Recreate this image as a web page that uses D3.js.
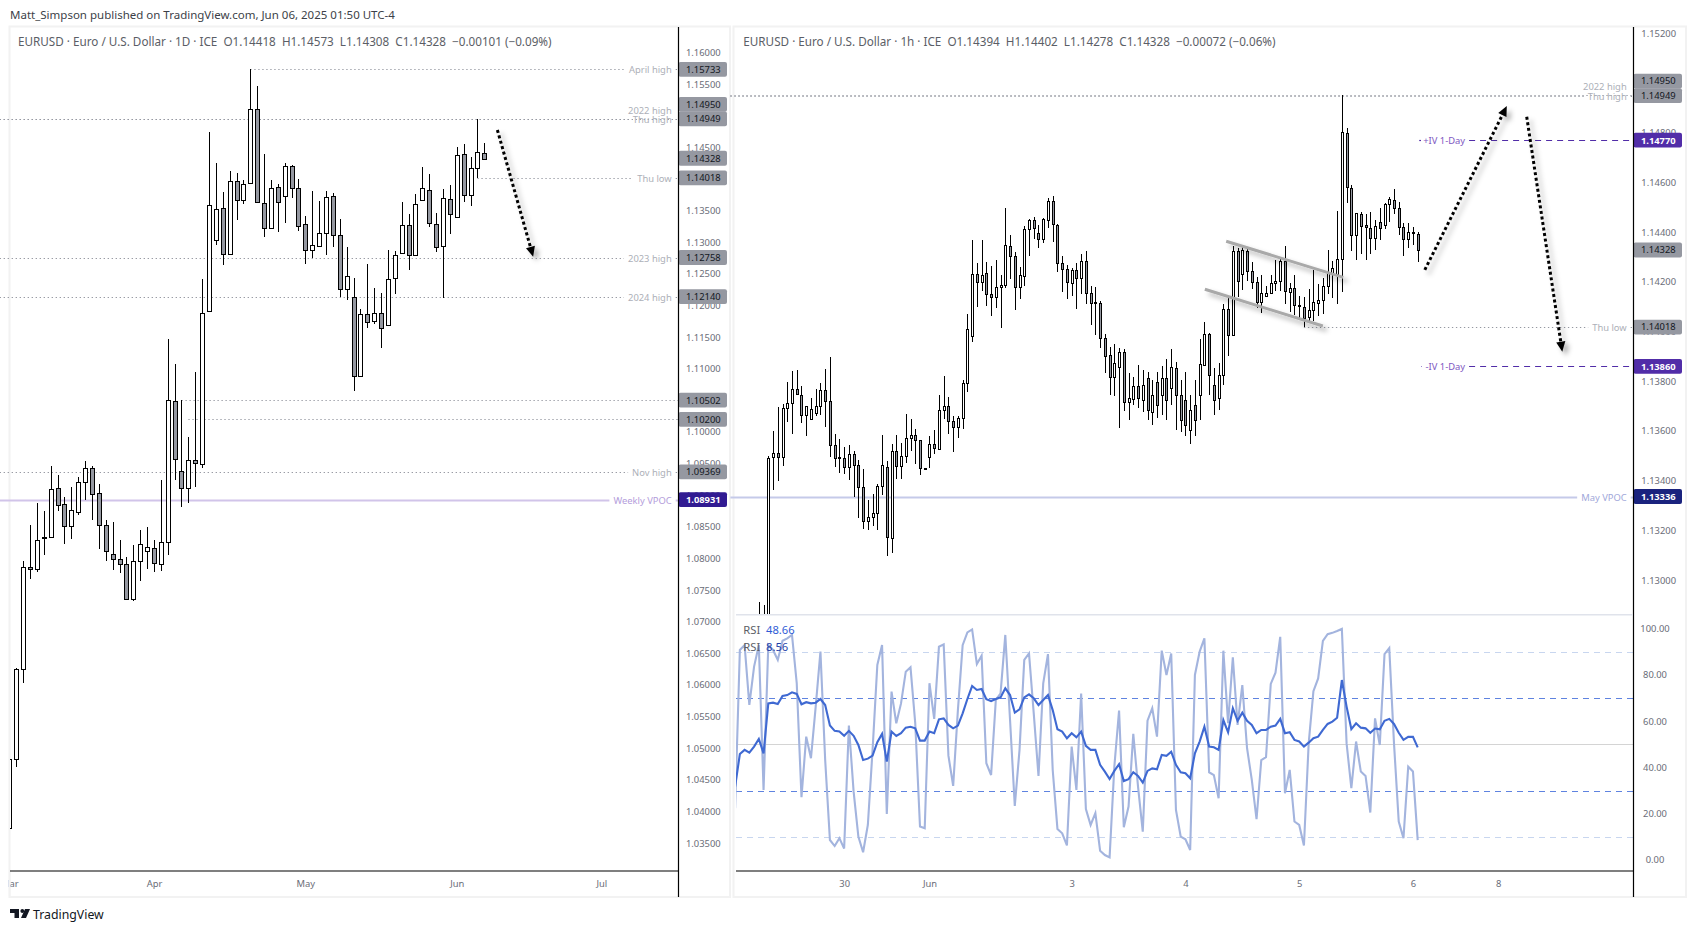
<!DOCTYPE html>
<html>
<head>
<meta charset="utf-8">
<title>EURUSD</title>
<script src="https://cdn.jsdelivr.net/npm/d3@7"></script>
<style>
    html, body { margin: 0; padding: 0; background: #fff; overflow: hidden; }
    text { font-family: "Noto Sans", sans-serif; }
</style>
</head>
<body>
<div id="my_dataviz"></div>
<script>
// daily candles, first one is cut by the left edge of the pane
const dOpen = [1.03737,1.04817,1.06246,1.07859,1.07828,1.08330,1.08334,1.09108,1.08855,1.08508,
    1.08729,1.09203,1.09425,1.09029,1.08523,1.08065,1.07986,1.07907,1.07347,1.07954,
    1.08112,1.08160,1.07907,1.08255,1.10484,1.09377,1.09108,1.09551,1.09488,1.11907,
    1.13030,1.13536,1.12809,1.13963,1.13663,1.13931,1.15102,1.13615,1.13220,1.13868,
    1.13726,1.14200,1.13852,1.13283,1.12872,1.12935,1.13141,1.13726,1.13109,1.12255,
    1.12129,1.10880,1.11860,1.11749,1.11876,1.11686,1.12429,1.12825,1.13267,1.12793,
    1.13663,1.13821,1.13283,1.12935,1.13678,1.13394,1.14390,1.13742,1.14169,1.14418];
const dHigh = [1.05034,1.06262,1.07954,1.08528,1.08876,1.08750,1.09461,1.09319,1.08971,1.09129,
    1.09287,1.09540,1.09461,1.09177,1.08607,1.08576,1.08291,1.08022,1.08212,1.08449,
    1.08497,1.08291,1.09240,1.11469,1.11074,1.10505,1.09920,1.10948,1.12418,1.14743,
    1.14252,1.13794,1.14126,1.14094,1.13984,1.15733,1.15470,1.14395,1.13984,1.13920,
    1.14252,1.14221,1.13999,1.13414,1.13810,1.13652,1.13810,1.13778,1.13367,1.12924,
    1.12434,1.11944,1.12655,1.12276,1.12197,1.12877,1.12861,1.13636,1.13446,1.13762,
    1.14189,1.14079,1.13462,1.13841,1.13905,1.14505,1.14553,1.14347,1.14949,1.14573];
const dLow = [1.03737,1.04706,1.06025,1.07670,1.07790,1.08054,1.08334,1.08754,1.08228,1.08312,
    1.08686,1.08923,1.08607,1.08154,1.07959,1.07817,1.07764,1.07342,1.07331,1.07647,
    1.07832,1.07785,1.07801,1.08054,1.09240,1.08813,1.08876,1.09129,1.09430,1.11896,
    1.12956,1.12640,1.12809,1.13351,1.13604,1.13931,1.13631,1.13082,1.13220,1.13161,
    1.13304,1.13699,1.13177,1.12655,1.12750,1.12935,1.12798,1.12924,1.12134,1.12086,
    1.10652,1.10880,1.11643,1.11707,1.11327,1.11686,1.12181,1.12825,1.12560,1.12793,
    1.13652,1.13240,1.12845,1.12118,1.13130,1.13394,1.13636,1.13573,1.14018,1.14308];
const dClose = [1.04823,1.06246,1.07859,1.07828,1.08286,1.08334,1.09093,1.08840,1.08508,1.08761,
    1.09203,1.09425,1.09014,1.08523,1.08112,1.07986,1.07907,1.07347,1.07954,1.08223,
    1.08176,1.07923,1.08255,1.10500,1.09567,1.09108,1.09551,1.09504,1.11876,1.13584,
    1.13520,1.12809,1.13963,1.13663,1.13916,1.15102,1.13631,1.13220,1.13852,1.13631,
    1.14200,1.13852,1.13252,1.12872,1.12951,1.13141,1.13710,1.13109,1.12255,1.12461,
    1.10880,1.11860,1.11733,1.11876,1.11639,1.12413,1.12793,1.13267,1.12793,1.13599,
    1.13852,1.13299,1.12919,1.13694,1.13441,1.14374,1.13742,1.14169,1.14422,1.14328];

// hourly candles
const hOpen = [1.12718,1.12698,1.12819,1.13494,1.13510,1.13494,1.13691,1.13711,1.13767,1.13743,
    1.13663,1.13647,1.13671,1.13699,1.13763,1.13719,1.13542,1.13495,1.13490,1.13454,
    1.13506,1.13462,1.13373,1.13236,1.13252,1.13268,1.13377,1.13454,1.13168,1.13518,
    1.13456,1.13498,1.13570,1.13582,1.13562,1.13450,1.13494,1.13546,1.13526,1.13683,
    1.13699,1.13639,1.13615,1.13651,1.13792,1.13981,1.14230,1.14198,1.14234,1.14150,
    1.14138,1.14178,1.14186,1.14343,1.14303,1.14178,1.14222,1.14411,1.14448,1.14395,
    1.14371,1.14448,1.14524,1.14427,1.14274,1.14250,1.14194,1.14246,1.14214,1.14283,
    1.14154,1.14118,1.14114,1.13973,1.13904,1.13816,1.13856,1.13916,1.13715,1.13727,
    1.13780,1.13724,1.13813,1.13676,1.13797,1.13745,1.13813,1.13773,1.13853,1.13745,
    1.13724,1.13604,1.13704,1.13745,1.13864,1.13989,1.13785,1.13732,1.13825,1.14089,
    1.13985,1.14323,1.14230,1.14323,1.14242,1.14198,1.14118,1.14142,1.14154,1.14194,
    1.14202,1.14283,1.14158,1.14174,1.14106,1.14097,1.14057,1.14085,1.14114,1.14126,
    1.14182,1.14234,1.14230,1.14291,1.14798,1.14576,1.14387,1.14472,1.14428,1.14415,
    1.14375,1.14439,1.14427,1.14512,1.14528,1.14496,1.14419,1.14371,1.14399,1.14394];
const hHigh = [1.12912,1.12899,1.13498,1.13600,1.13696,1.13708,1.13797,1.13841,1.13845,1.13781,
    1.13699,1.13732,1.13769,1.13793,1.13849,1.13897,1.13588,1.13567,1.13535,1.13543,
    1.13519,1.13483,1.13447,1.13322,1.13346,1.13386,1.13584,1.13479,1.13547,1.13584,
    1.13551,1.13668,1.13648,1.13608,1.13562,1.13452,1.13580,1.13604,1.13745,1.13821,
    1.13736,1.13660,1.13660,1.13805,1.14070,1.14368,1.14276,1.14368,1.14280,1.14264,
    1.14288,1.14227,1.14497,1.14388,1.14320,1.14260,1.14425,1.14453,1.14461,1.14429,
    1.14457,1.14537,1.14545,1.14433,1.14304,1.14268,1.14256,1.14276,1.14312,1.14324,
    1.14183,1.14179,1.14123,1.13990,1.13938,1.13950,1.13934,1.13930,1.13833,1.13817,
    1.13865,1.13845,1.13837,1.13805,1.13837,1.13861,1.13889,1.13930,1.13877,1.13805,
    1.13837,1.13745,1.13805,1.13970,1.14038,1.13994,1.13853,1.13873,1.14111,1.14135,
    1.14344,1.14336,1.14344,1.14336,1.14280,1.14219,1.14227,1.14183,1.14227,1.14288,
    1.14292,1.14344,1.14195,1.14227,1.14143,1.14139,1.14171,1.14248,1.14191,1.14215,
    1.14328,1.14284,1.14485,1.14950,1.14819,1.14590,1.14476,1.14481,1.14473,1.14481,
    1.14449,1.14497,1.14517,1.14541,1.14573,1.14521,1.14437,1.14437,1.14420,1.14402];
const hLow = [1.12678,1.12658,1.12800,1.13362,1.13398,1.13459,1.13636,1.13588,1.13745,1.13632,
    1.13580,1.13647,1.13660,1.13664,1.13616,1.13495,1.13455,1.13431,1.13427,1.13402,
    1.13334,1.13250,1.13205,1.13201,1.13217,1.13201,1.13342,1.13097,1.13109,1.13406,
    1.13406,1.13471,1.13519,1.13467,1.13423,1.13448,1.13451,1.13507,1.13526,1.13648,
    1.13588,1.13515,1.13571,1.13608,1.13757,1.13958,1.14099,1.14163,1.14103,1.14062,
    1.14095,1.14014,1.14175,1.14211,1.14087,1.14131,1.14183,1.14304,1.14372,1.14336,
    1.14356,1.14417,1.14360,1.14239,1.14159,1.14131,1.14143,1.14091,1.14151,1.14111,
    1.14026,1.13986,1.13934,1.13833,1.13745,1.13740,1.13612,1.13680,1.13644,1.13704,
    1.13692,1.13676,1.13644,1.13624,1.13652,1.13664,1.13644,1.13704,1.13604,1.13596,
    1.13580,1.13547,1.13580,1.13644,1.13864,1.13745,1.13664,1.13684,1.13785,1.13901,
    1.13985,1.14139,1.14167,1.14203,1.14171,1.14095,1.14074,1.14139,1.14154,1.14163,
    1.14163,1.14111,1.14079,1.14066,1.14054,1.14018,1.14034,1.14042,1.14062,1.14070,
    1.14151,1.14135,1.14111,1.14159,1.14517,1.14324,1.14288,1.14312,1.14288,1.14312,
    1.14328,1.14368,1.14413,1.14441,1.14473,1.14388,1.14304,1.14336,1.14348,1.14278];
const hClose = [1.12819,1.12799,1.13490,1.13510,1.13494,1.13691,1.13711,1.13767,1.13747,1.13663,
    1.13699,1.13687,1.13699,1.13763,1.13719,1.13542,1.13490,1.13494,1.13454,1.13506,
    1.13462,1.13373,1.13236,1.13252,1.13268,1.13377,1.13462,1.13172,1.13518,1.13456,
    1.13498,1.13570,1.13582,1.13562,1.13450,1.13451,1.13546,1.13530,1.13683,1.13699,
    1.13639,1.13615,1.13651,1.13792,1.14009,1.14230,1.14198,1.14226,1.14150,1.14138,
    1.14178,1.14186,1.14347,1.14303,1.14178,1.14226,1.14411,1.14448,1.14415,1.14371,
    1.14452,1.14524,1.14431,1.14274,1.14250,1.14198,1.14246,1.14214,1.14283,1.14154,
    1.14114,1.14118,1.13973,1.13900,1.13816,1.13872,1.13916,1.13715,1.13731,1.13780,
    1.13732,1.13785,1.13684,1.13745,1.13704,1.13813,1.13724,1.13857,1.13745,1.13644,
    1.13624,1.13684,1.13644,1.13869,1.13989,1.13825,1.13724,1.13825,1.14089,1.13985,
    1.14323,1.14202,1.14327,1.14242,1.14198,1.14118,1.14154,1.14154,1.14194,1.14202,
    1.14283,1.14162,1.14174,1.14105,1.14105,1.14053,1.14085,1.14118,1.14126,1.14182,
    1.14238,1.14254,1.14291,1.14802,1.14580,1.14387,1.14476,1.14423,1.14420,1.14375,
    1.14423,1.14415,1.14512,1.14532,1.14496,1.14419,1.14371,1.14399,1.14396,1.14328];

// RSI 14 and RSI 2, they start 5 bars before the first hourly candle
const rsiSlow = [31.7,45.8,47.6,46.4,49.0,52.3,46.1,67.7,68.0,67.4,70.9,71.3,72.5,71.8,67.3,68.2,67.7,68.0,69.6,67.0,
    58.1,55.8,55.5,53.7,55.8,53.7,49.7,43.2,43.8,45.1,50.9,54.5,42.5,55.5,53.6,54.8,57.2,57.6,56.9,51.6,
    51.6,55.5,54.8,60.8,61.2,58.4,56.9,58.1,63.4,69.6,75.2,73.5,73.9,69.5,68.7,69.6,70.3,74.2,71.3,63.7,
    65.1,70.3,71.6,69.9,67.0,69.2,71.3,64.8,56.5,55.5,52.6,54.8,53.0,55.5,49.3,47.6,47.6,41.1,38.2,35.0,
    38.5,41.4,34.1,34.9,37.9,36.3,33.4,38.5,39.6,39.2,45.4,45.0,46.8,41.1,37.9,37.5,35.3,46.1,51.2,57.6,
    49.0,48.7,47.6,60.5,55.2,65.6,60.2,63.7,60.2,58.4,54.8,56.2,56.2,57.6,58.1,61.0,54.8,55.2,51.9,51.2,
    49.0,50.7,52.6,53.3,56.2,58.8,59.8,61.5,77.8,66.3,56.6,59.1,57.2,56.9,55.0,56.8,56.5,60.2,61.0,58.8,
    55.0,51.9,53.2,53.2,48.66];
const rsiFast = [22.3,90.8,92.9,67.0,83.6,92.9,30.3,92.9,90.8,86.5,94.8,95.8,97.3,76.4,27.1,53.3,44.0,66.3,90.1,43.2,
    8.6,6.0,9.4,4.9,58.1,29.5,10.1,3.3,15.1,47.6,84.3,92.9,19.9,72.8,59.1,67.7,81.4,83.3,59.1,14.4,
    13.7,76.4,61.0,92.2,93.2,45.1,32.0,64.8,92.9,98.4,99.7,84.7,88.3,41.8,36.7,69.2,72.0,97.3,60.5,23.3,
    47.6,86.5,89.3,63.4,36.3,76.4,89.0,38.9,13.4,11.5,6.3,49.0,30.3,72.0,22.0,15.1,20.2,4.0,2.1,1.1,
    40.3,64.6,14.1,23.1,54.5,31.7,12.2,60.2,65.6,53.3,90.5,80.0,89.3,21.6,10.1,8.9,4.3,80.0,90.1,95.8,
    37.9,36.7,26.7,90.5,59.1,87.6,58.4,75.6,48.3,34.6,17.6,43.2,44.4,76.1,81.0,96.5,28.8,38.9,16.6,15.1,
    6.2,50.4,73.0,78.5,94.7,97.6,98.2,99.0,99.9,50.4,31.0,51.2,38.2,36.3,20.5,61.2,49.7,89.0,91.6,50.4,
    16.6,9.4,40.3,38.2,8.56];

// axis ticks
const dailyTicks = d3.range(1.035, 1.1601, 0.005);
const hourlyTicks = d3.range(1.13, 1.1521, 0.002);
const rsiTicks = [0, 20, 40, 60, 80, 100];
const dailyDateBars = [0, 21, 43, 65, 86];
const dailyDateNames = ["Mar", "Apr", "May", "Jun", "Jul"];
const hourlyDateBars = [18, 36, 66, 90, 114, 138, 156];
const hourlyDateNames = ["30", "Jun", "3", "4", "5", "6", "8"];

// horizontal levels of the daily pane
const dLevelNames = ["April high", "2022 high", "Thu high", "Thu low", "2023 high", "2024 high", "", "", "Nov high", "Weekly VPOC", ""];
const dLevelPrices = [1.15733, 1.1495, 1.14949, 1.14018, 1.12758, 1.1214, 1.10502, 1.102, 1.09369, 1.08931, 1.14328];
const dLevelStarts = [35, -2, -2, 68, -2, -2, 25, 26, -2, -2, null];
const dLevelKinds = ["dot", "above", "dot", "dot", "dot", "dot", "dot", "dot", "dot", "vpocW", "last"];

// horizontal levels of the hourly pane
const hLevelNames = ["2022 high", "Thu high", "+IV 1-Day", "Thu low", "-IV 1-Day", "May VPOC", ""];
const hLevelPrices = [1.1495, 1.14949, 1.1477, 1.14018, 1.1386, 1.13336, 1.14328];
const hLevelStarts = [-6, -6, 139.7, 115, 139.7, -6, null];
const hLevelKinds = ["above", "dot", "iv", "dot", "iv", "vpocM", "last"];

// hand drawn lines, [bar, price, bar, price]
const dArrows = [[69.9 + 1, 1.14774, 75.1 + 1, 1.12771]];
const hArrows = [[140.5, 1.14248, 157.8, 1.14907], [162, 1.14864, 169.5, 1.13919]];
const hChannel = [[98.6, 1.14363, 123.3, 1.14218], [94.1, 1.1417, 119, 1.14022]];

const width = 1695;
const height = 932;
const fontSmall = 9.4;
const fontHeader = 11.7;
const tagGrey = "#9598a1";

const svg = d3.select("#my_dataviz").append("svg")
    .attr("width", width).attr("height", height).style("display", "block");

const defs = svg.append("defs");
defs.append("clipPath").attr("id", "clipDaily").append("rect")
    .attr("x", 10).attr("y", 27).attr("width", 668).attr("height", 844);
defs.append("clipPath").attr("id", "clipHourly").append("rect")
    .attr("x", 736).attr("y", 27).attr("width", 897).attr("height", 587);
defs.append("clipPath").attr("id", "clipRsi").append("rect")
    .attr("x", 736).attr("y", 615).attr("width", 897).attr("height", 256);
const shadow = defs.append("filter").attr("id", "shadow")
    .attr("x", "-30%").attr("y", "-30%").attr("width", "170%").attr("height", "170%");
shadow.append("feDropShadow").attr("dx", 4).attr("dy", 4).attr("stdDeviation", 2.4)
    .attr("flood-color", "#000").attr("flood-opacity", 0.32);

// scales
const dailyX = d3.scaleLinear().domain([0, 69]).range([9.42, 484.3]);
const dailyY = d3.scaleLinear().domain([1.16, 1.035]).range([52.5, 843]);
const hourX = d3.scaleLinear().domain([0, 139]).range([758.82, 1417.7]);
const hourY = d3.scaleLinear().domain([1.152, 1.13]).range([33.3, 580]);
const rsiY = d3.scaleLinear().domain([0, 100]).range([859.9, 628.7]);

// cadres des deux panneaux
[[9.5, 720.5], [733.5, 952.5]].forEach(function (p) {
    svg.append("rect").attr("x", p[0]).attr("y", 26.5).attr("width", p[1]).attr("height", 870.5)
        .attr("fill", "#fff").attr("stroke", "#f2f2f2").attr("stroke-width", 2);
});

// titres
svg.append("text").attr("x", 10).attr("y", 19).attr("font-size", 11.5).attr("fill", "#3c3f48")
    .text("Matt_Simpson published on TradingView.com, Jun 06, 2025 01:50 UTC-4");
svg.append("text").attr("x", 18).attr("y", 45.5).attr("font-size", fontHeader).attr("fill", "#5b5e66")
    .attr("xml:space", "preserve")
    .text("EURUSD · Euro / U.S. Dollar · 1D · ICE  O1.14418  H1.14573  L1.14308  C1.14328  −0.00101 (−0.09%)");
svg.append("text").attr("x", 743.3).attr("y", 45.5).attr("font-size", fontHeader).attr("fill", "#5b5e66")
    .attr("xml:space", "preserve")
    .text("EURUSD · Euro / U.S. Dollar · 1h · ICE  O1.14394  H1.14402  L1.14278  C1.14328  −0.00072 (−0.06%)");

// axe de prix, format à 5 décimales
function priceAxis(scale, ticks, xPos, center) {
    const g = svg.append("g").attr("transform", "translate(" + xPos + ",0)")
        .call(d3.axisRight(scale).tickValues(ticks).tickSize(0).tickFormat(d3.format(".5f")));
    g.select(".domain").remove();
    g.selectAll("text").attr("x", center).attr("text-anchor", "middle")
        .attr("font-size", fontSmall).attr("font-family", null).attr("fill", "#6a6d78");
}
priceAxis(dailyY, dailyTicks, 678, 25.3);
priceAxis(hourY, hourlyTicks, 1633, 25.7);

const rsiAxis = svg.append("g").attr("transform", "translate(1633,0)")
    .call(d3.axisRight(rsiY).tickValues(rsiTicks).tickSize(0).tickFormat(d3.format(".2f")));
rsiAxis.select(".domain").remove();
rsiAxis.selectAll("text").attr("x", 22).attr("text-anchor", "middle")
    .attr("font-size", fontSmall).attr("font-family", null).attr("fill", "#6a6d78");

// axe du temps
function timeAxis(scale, bars, names) {
    const g = svg.append("g").attr("transform", "translate(0,871)")
        .call(d3.axisBottom(scale).tickValues(bars).tickSize(0)
            .tickFormat(function (d, i) { return names[i]; }));
    g.select(".domain").remove();
    g.selectAll("text").attr("y", 9).attr("font-size", fontSmall)
        .attr("font-family", null).attr("fill", "#6a6d78");
    return g;
}
timeAxis(dailyX, dailyDateBars, dailyDateNames);
timeAxis(hourX, hourlyDateBars, hourlyDateNames);

// cache le début du "Mar" qui déborde du panneau
svg.append("rect").attr("x", 0).attr("y", 872).attr("width", 8.5).attr("height", 24).attr("fill", "#fff");
svg.append("rect").attr("x", 8.5).attr("y", 872).attr("width", 2).attr("height", 24).attr("fill", "#f2f2f2");

// niveaux horizontaux
const levelStyle = {
    dot: { stroke: tagGrey, dash: "1.3 2.7", width: 1, text: "#adb0b8", tag: tagGrey, tagText: "#131722" },
    above: { stroke: tagGrey, dash: "1.3 2.7", width: 1, text: "#adb0b8", tag: tagGrey, tagText: "#131722" },
    last: { tag: tagGrey, tagText: "#131722" },
    iv: { stroke: "#512da8", dash: "6 5", width: 1.2, text: "#7e57c2", tag: "#512da8", tagText: "#fff" },
    vpocW: { stroke: "#d1c4e9", dash: null, width: 2, text: "#b39ddb", tag: "#311b92", tagText: "#fff" },
    vpocM: { stroke: "#c5cae9", dash: null, width: 2, text: "#9fa8da", tag: "#1a237e", tagText: "#fff" }
};

function drawLevels(names, prices, starts, kinds, xScale, yScale, axisX, labelEnd, ivEnd) {
    const g = svg.append("g");
    const textG = svg.append("g");
    names.forEach(function (name, i) {
        const st = levelStyle[kinds[i]];
        if (kinds[i] === "last") return;
        const y = Math.round(yScale(prices[i])) + 0.5;
        const x0 = xScale(starts[i]);
        const segment = function (a, b) {
            g.append("line").attr("x1", a).attr("x2", b).attr("y1", y).attr("y2", y)
                .attr("stroke", st.stroke).attr("stroke-width", st.width)
                .attr("stroke-dasharray", st.dash);
        };
        if (!name) {
            segment(x0, axisX);
            return;
        }
        const end = kinds[i] === "iv" ? ivEnd : labelEnd;
        const label = textG.append("text").attr("x", end).attr("font-size", fontSmall)
            .attr("text-anchor", "end").attr("fill", st.text).text(name);
        label.attr("y", (kinds[i] === "above" ? y - 9 : y) + 3.3);
        const w = label.node().getComputedTextLength();
        if (kinds[i] === "above") {
            segment(x0, axisX);
        } else {
            segment(x0, end - w - 4);
            segment(end + 4, axisX);
        }
    });
}

// étiquettes de prix sur l'axe, poussées vers le haut si elles se touchent
function drawTags(prices, kinds, yScale, axisX) {
    const tags = prices.map(function (p, i) { return { p: p, st: levelStyle[kinds[i]] }; })
        .sort(function (a, b) { return d3.ascending(a.p, b.p); });
    let prev = null;
    tags.forEach(function (t) {
        let y = yScale(t.p);
        if (prev !== null && prev - y < 14.6) y = prev - 14.6;
        prev = y;
        svg.append("rect").attr("x", axisX + 0.5).attr("y", y - 7.4).attr("width", 48.5).attr("height", 14.8)
            .attr("rx", 2).attr("fill", t.st.tag);
        svg.append("text").attr("x", axisX + 25.3).attr("y", y + 3.4).attr("text-anchor", "middle")
            .attr("font-size", fontSmall).attr("fill", t.st.tagText)
            .attr("font-weight", t.st.tagText === "#fff" ? "bold" : null)
            .text(d3.format(".5f")(t.p));
    });
}

drawLevels(dLevelNames, dLevelPrices, dLevelStarts, dLevelKinds, dailyX, dailyY, 678, 671.7, 0);
drawLevels(hLevelNames, hLevelPrices, hLevelStarts, hLevelKinds, hourX, hourY, 1633, 1626.7, hourX(149));
drawTags(dLevelPrices, dLevelKinds, dailyY, 678);
drawTags(hLevelPrices, hLevelKinds, hourY, 1633);

// bougies
function drawCandles(open, high, low, close, xScale, yScale, clip, bodyW) {
    const bars = d3.range(open.length);
    const g = svg.append("g").attr("clip-path", "url(#" + clip + ")")
        .attr("shape-rendering", "crispEdges");
    g.selectAll(".wick").data(bars).join("line").attr("class", "wick")
        .attr("x1", function (d) { return Math.round(xScale(d)) + 0.5; })
        .attr("x2", function (d) { return Math.round(xScale(d)) + 0.5; })
        .attr("y1", function (d) { return yScale(high[d]); })
        .attr("y2", function (d) { return yScale(low[d]); })
        .attr("stroke", "#000");
    g.selectAll(".body").data(bars).join("rect").attr("class", "body")
        .attr("x", function (d) { return Math.round(xScale(d)) + 0.5 - bodyW / 2; })
        .attr("width", bodyW)
        .attr("y", function (d) { return Math.round(yScale(Math.max(open[d], close[d]))) + 0.5; })
        .attr("height", function (d) {
            return Math.max(1, Math.round(Math.abs(yScale(open[d]) - yScale(close[d]))));
        })
        .attr("fill", function (d) { return close[d] < open[d] ? tagGrey : "#fff"; })
        .attr("stroke", "#000");
}
drawCandles(dOpen, dHigh, dLow, dClose, dailyX, dailyY, "clipDaily", 4);
drawCandles(hOpen, hHigh, hLow, hClose, hourX, hourY, "clipHourly", 2);

// canal gris et flèches pointillées
hChannel.forEach(function (c) {
    svg.append("line")
        .attr("x1", hourX(c[0])).attr("y1", hourY(c[1])).attr("x2", hourX(c[2])).attr("y2", hourY(c[3]))
        .attr("stroke", "#a9a9a9").attr("stroke-width", 3).attr("filter", "url(#shadow)");
});

function drawArrow(a, xScale, yScale) {
    const x1 = xScale(a[0]), y1 = yScale(a[1]), x2 = xScale(a[2]), y2 = yScale(a[3]);
    const angle = Math.atan2(y2 - y1, x2 - x1);
    const g = svg.append("g").attr("filter", "url(#shadow)");
    const len = 10;
    g.append("line").attr("x1", x1).attr("y1", y1)
        .attr("x2", x2 - len * 0.7 * Math.cos(angle)).attr("y2", y2 - len * 0.7 * Math.sin(angle))
        .attr("stroke", "#000").attr("stroke-width", 3).attr("stroke-dasharray", "3 2.6");
    const head = [[0, 0], [-len, -4.6], [-len, 4.6]].map(function (p) {
        return [x2 + p[0] * Math.cos(angle) - p[1] * Math.sin(angle),
            y2 + p[0] * Math.sin(angle) + p[1] * Math.cos(angle)];
    });
    g.append("polygon").attr("points", head.join(" ")).attr("fill", "#000");
}
dArrows.forEach(function (a) { drawArrow(a, dailyX, dailyY); });
hArrows.forEach(function (a) { drawArrow(a, hourX, hourY); });

// panneau RSI
const rsiG = svg.append("g").attr("clip-path", "url(#clipRsi)");
[[90, "#c8d6ef", "6 5"], [70, "#5f83e0", "6 5"], [50, "#d4d4d4", null], [30, "#5f83e0", "6 5"], [10, "#c8d6ef", "6 5"]]
    .forEach(function (b) {
        rsiG.append("line").attr("x1", 736).attr("x2", 1633)
            .attr("y1", Math.round(rsiY(b[0])) + 0.5).attr("y2", Math.round(rsiY(b[0])) + 0.5)
            .attr("stroke", b[1]).attr("stroke-dasharray", b[2]).attr("stroke-width", 1.1);
    });
const rsiLine = d3.line()
    .x(function (d, i) { return hourX(i - 5); })
    .y(function (d) { return rsiY(d); });
rsiG.append("path").datum(rsiFast).attr("d", rsiLine).attr("fill", "none")
    .attr("stroke", "#a3b4de").attr("stroke-width", 2.1);
rsiG.append("path").datum(rsiSlow).attr("d", rsiLine).attr("fill", "none")
    .attr("stroke", "#3f69d2").attr("stroke-width", 2.1);

svg.append("text").attr("x", 743.3).attr("y", 634).attr("font-size", 11.2).attr("fill", "#5b5e66").text("RSI");
svg.append("text").attr("x", 766).attr("y", 634).attr("font-size", 11.2).attr("fill", "#2f5bd6").text("48.66");
svg.append("text").attr("x", 743.3).attr("y", 651).attr("font-size", 11.2).attr("fill", "#5b5e66").text("RSI");
svg.append("text").attr("x", 766).attr("y", 651).attr("font-size", 11.2).attr("fill", "#1f3fa8").text("8.56");

// lignes noires des axes
[[10, 678, 871, 871], [736, 1633, 871, 871], [678.5, 678.5, 27, 897], [1633.5, 1633.5, 27, 897]].forEach(function (l) {
    svg.append("line").attr("x1", l[0]).attr("x2", l[1]).attr("y1", l[2]).attr("y2", l[3])
        .attr("stroke", "#000").attr("stroke-width", 1.2);
});
svg.append("line").attr("x1", 736).attr("x2", 1633).attr("y1", 614.7).attr("y2", 614.7)
    .attr("stroke", "#e0e3eb").attr("stroke-width", 1.5);

// logo en bas à gauche
svg.append("path").attr("fill", "#131722")
    .attr("d", "M10 909h9v9h-4.5v-5H10z M25 909h5l-4 9h-5z");
svg.append("circle").attr("cx", 22.3).attr("cy", 911).attr("r", 1.9).attr("fill", "#131722");
svg.append("text").attr("x", 33).attr("y", 919).attr("font-size", 12.3).attr("fill", "#131722").text("TradingView");
</script>
</body>
</html>
